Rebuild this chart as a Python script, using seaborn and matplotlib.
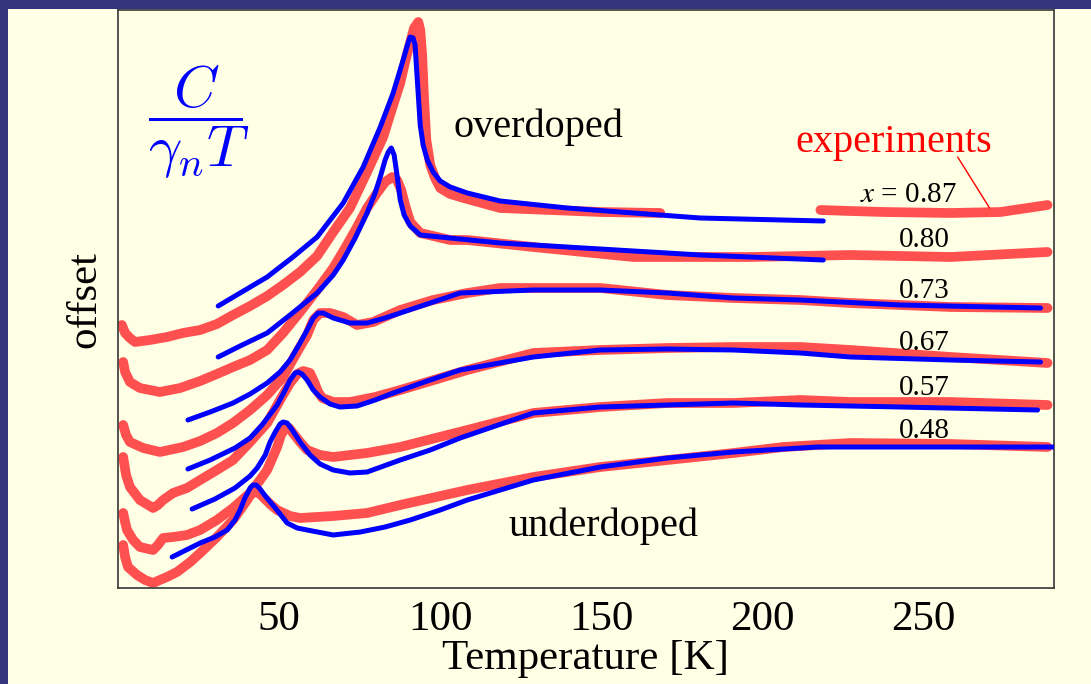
import numpy as np
import pandas as pd
import matplotlib
matplotlib.use('Agg')
import matplotlib.pyplot as plt
from matplotlib.patches import Rectangle
import seaborn as sns

# Colores
NAVY = '#34347c'
CREAM = '#ffffe6'
RED = '#ff5050'
BLUE = '#0000ff'

# Datos experimentales (C / gamma_n T, desplazados) - temperatura en K
exp_087_T = [1.2, 2.2, 3.7, 5.3, 9.9, 15.2, 20.2, 25.5, 30.7, 35.7, 41.0, 46.3, 51.2, 56.5, 61.8,
             66.8, 72.0, 77.3, 82.3, 85.4, 87.6, 89.1, 90.7, 91.9, 93.2, 93.8, 94.4, 95.0, 95.7,
             96.9, 98.4, 100.0, 103.1, 108.4, 118.6, 134.2, 149.7, 168.3]
exp_087_y = [2.63, 2.55, 2.50, 2.46, 2.48, 2.51, 2.55, 2.58, 2.64, 2.73, 2.82, 2.92, 3.03, 3.16, 3.32,
             3.56, 3.80, 4.16, 4.51, 4.83, 5.05, 5.26, 5.46, 5.60, 5.66, 5.58, 5.33, 4.88, 4.48,
             4.23, 4.10, 4.00, 3.94, 3.89, 3.80, 3.78, 3.76, 3.75]
exp_087b_T = [218.0, 227.3, 237.6, 258.4, 273.9, 288.5]
exp_087b_y = [3.78, 3.77, 3.76, 3.75, 3.76, 3.83]

exp_080_T = [1.6, 2.2, 3.7, 6.8, 13.0, 19.3, 25.5, 30.7, 35.7, 41.0, 46.3, 51.2, 56.5, 61.8, 66.8,
             70.5, 74.2, 77.3, 80.4, 82.9, 85.1, 86.6, 87.9, 89.1, 90.7, 93.8, 103.1, 108.4, 128.9,
             159.9, 180.7, 196.3, 227.3, 258.4, 288.5]
exp_080_y = [2.26, 2.16, 2.06, 2.00, 1.96, 2.00, 2.07, 2.14, 2.21, 2.28, 2.38, 2.55, 2.76, 2.98, 3.20,
             3.40, 3.61, 3.80, 3.95, 4.06, 4.11, 4.08, 3.98, 3.83, 3.66, 3.55, 3.48, 3.48, 3.41,
             3.31, 3.31, 3.31, 3.33, 3.31, 3.36]

exp_073_T = [1.6, 2.5, 3.7, 7.8, 13.0, 20.2, 25.5, 30.7, 35.7, 41.0, 46.3, 51.2, 55.6, 58.7, 60.6,
             62.7, 65.8, 69.9, 74.2, 79.2, 87.6, 97.8, 108.4, 118.6, 128.9, 149.7, 170.5, 191.0,
             211.8, 227.3, 258.4, 288.5]
exp_073_y = [1.63, 1.53, 1.46, 1.40, 1.36, 1.41, 1.47, 1.55, 1.65, 1.78, 1.93, 2.11, 2.36, 2.53, 2.68,
             2.75, 2.75, 2.71, 2.63, 2.66, 2.78, 2.88, 2.95, 3.00, 3.00, 3.00, 2.93, 2.90,
             2.88, 2.85, 2.81, 2.80]

exp_067_T = [1.6, 2.5, 3.7, 6.8, 10.9, 12.4, 14.0, 17.1, 21.4, 25.5, 30.7, 35.7, 41.0, 46.3, 50.3,
             53.4, 55.6, 57.5, 59.6, 60.9, 62.1, 63.4, 66.8, 72.0, 79.8, 87.6, 108.4, 128.9, 149.7,
             170.5, 191.0, 211.8, 227.3, 258.4, 288.5]
exp_067_y = [1.31, 1.13, 1.01, 0.88, 0.80, 0.83, 0.88, 0.95, 1.00, 1.08, 1.18, 1.28, 1.46, 1.65, 1.88,
             2.05, 2.14, 2.17, 2.15, 2.06, 1.96, 1.90, 1.86, 1.86, 1.91, 1.98, 2.18, 2.35, 2.38,
             2.40, 2.41, 2.41, 2.38, 2.31, 2.25]

exp_057_T = [1.6, 2.2, 2.8, 4.7, 6.8, 10.9, 12.4, 14.0, 17.1, 21.4, 25.5, 30.7, 35.7, 41.0, 44.1,
             46.3, 49.4, 50.6, 51.9, 53.1, 54.3, 56.5, 58.7, 62.7, 66.8, 77.3, 87.6, 108.4, 128.9,
             149.7, 170.5, 191.0, 211.8, 227.3, 258.4, 288.5]
exp_057_y = [0.75, 0.66, 0.58, 0.48, 0.41, 0.38, 0.43, 0.50, 0.51, 0.53, 0.58, 0.68, 0.80, 0.95, 1.08,
             1.18, 1.41, 1.53, 1.60, 1.60, 1.55, 1.46, 1.38, 1.33, 1.31, 1.35, 1.41, 1.58, 1.75,
             1.81, 1.85, 1.85, 1.88, 1.86, 1.86, 1.83]

exp_048_T = [1.6, 2.2, 3.1, 5.9, 8.4, 10.9, 13.0, 15.2, 18.3, 22.4, 25.5, 30.7, 35.7, 37.9, 40.1,
             41.3, 42.5, 43.8, 45.0, 47.2, 49.4, 53.4, 56.5, 66.8, 77.3, 87.6, 108.4, 128.9, 149.7,
             170.5, 191.0, 206.5, 227.3, 258.4, 288.5]
exp_048_y = [0.43, 0.31, 0.21, 0.13, 0.08, 0.05, 0.08, 0.11, 0.16, 0.26, 0.35, 0.51, 0.68, 0.78, 0.88,
             0.94, 0.96, 0.95, 0.91, 0.84, 0.78, 0.72, 0.70, 0.72, 0.75, 0.83, 0.98, 1.11, 1.21,
             1.28, 1.35, 1.41, 1.45, 1.44, 1.41]

# Curvas teóricas
th_087_T = [31.1, 37.9, 46.3, 54.3, 61.8, 69.9, 76.1, 81.4, 85.4, 88.5, 90.1, 90.7, 91.6, 92.2, 92.9,
            93.8, 94.7, 96.0, 97.8, 100.0, 103.1, 108.4, 118.6, 139.4, 159.9, 180.7, 218.9]
th_087_y = [2.82, 2.95, 3.11, 3.31, 3.51, 3.85, 4.21, 4.61, 4.95, 5.28, 5.46, 5.51, 5.50, 5.43, 5.08,
            4.63, 4.43, 4.28, 4.16, 4.07, 4.01, 3.95, 3.87, 3.80, 3.75, 3.70, 3.67]

th_080_T = [31.1, 37.9, 46.3, 53.4, 61.8, 66.8, 69.9, 73.6, 77.3, 79.8, 81.4, 82.9, 83.9, 84.8, 85.7,
            86.6, 87.6, 88.8, 90.7, 93.8, 103.1, 118.6, 180.7, 218.9]
th_080_y = [2.31, 2.42, 2.55, 2.73, 2.95, 3.13, 3.28, 3.50, 3.75, 3.95, 4.11, 4.28, 4.36, 4.40, 4.33,
            4.13, 3.88, 3.73, 3.62, 3.53, 3.50, 3.45, 3.33, 3.28]

th_073_T = [21.7, 28.6, 35.7, 41.0, 46.3, 50.3, 53.4, 56.5, 58.7, 60.6, 62.1, 63.7, 66.8, 72.0, 77.3,
            82.9, 87.6, 96.9, 106.2, 128.9, 149.7, 170.5, 191.0, 211.8, 242.9, 286.3]
th_073_y = [1.68, 1.76, 1.85, 1.94, 2.05, 2.16, 2.28, 2.45, 2.58, 2.70, 2.75, 2.75, 2.70, 2.65, 2.65,
            2.70, 2.75, 2.85, 2.95, 2.98, 2.98, 2.95, 2.90, 2.88, 2.83, 2.80]

th_067_T = [21.7, 28.6, 36.3, 41.0, 44.7, 49.4, 51.9, 53.4, 55.0, 55.9, 57.1, 58.7, 60.6, 62.7, 65.8,
            68.9, 74.2, 79.8, 85.4, 96.9, 106.2, 128.9, 149.7, 170.5, 191.0, 211.8, 227.3, 258.4, 286.3]
th_067_y = [1.19, 1.28, 1.40, 1.50, 1.63, 1.83, 1.98, 2.08, 2.15, 2.16, 2.14, 2.08, 1.98, 1.91, 1.84,
            1.81, 1.82, 1.88, 1.95, 2.08, 2.18, 2.31, 2.38, 2.39, 2.38, 2.35, 2.31, 2.28, 2.26]

th_057_T = [23.0, 30.1, 36.3, 41.0, 43.2, 45.7, 47.2, 48.8, 50.3, 51.2, 52.5, 54.3, 56.5, 59.6, 62.7,
            66.8, 72.0, 77.3, 87.6, 96.9, 106.2, 128.9, 149.7, 170.5, 191.0, 211.8, 242.9, 285.4]
th_057_y = [0.79, 0.89, 1.00, 1.12, 1.20, 1.33, 1.46, 1.56, 1.64, 1.66, 1.65, 1.57, 1.46, 1.33, 1.24,
            1.18, 1.15, 1.16, 1.28, 1.38, 1.50, 1.75, 1.81, 1.83, 1.85, 1.83, 1.81, 1.78]

th_048_T = [16.8, 25.5, 30.1, 33.9, 36.3, 37.9, 39.4, 41.0, 41.9, 42.9, 44.1, 45.7, 48.8, 52.5, 55.6,
            58.7, 66.8, 75.2, 82.9, 90.7, 100.0, 108.4, 128.9, 149.7, 170.5, 191.0, 217.1, 290.4]
th_048_y = [0.31, 0.45, 0.51, 0.58, 0.68, 0.78, 0.90, 1.00, 1.03, 1.03, 0.99, 0.92, 0.80, 0.65, 0.60,
            0.58, 0.53, 0.56, 0.61, 0.68, 0.78, 0.88, 1.08, 1.21, 1.30, 1.36, 1.41, 1.41]

doping_labels = ['0.80', '0.73', '0.67', '0.57', '0.48']
xticks = [50, 100, 150, 200, 250]


def to_df(segs):
    frames = []
    for i, (T, y) in enumerate(segs):
        frames.append(pd.DataFrame({'T': T, 'y': y, 'seg': i}))
    return pd.concat(frames, ignore_index=True)


df_exp = to_df([(exp_087_T, exp_087_y), (exp_087b_T, exp_087b_y), (exp_080_T, exp_080_y),
                (exp_073_T, exp_073_y), (exp_067_T, exp_067_y), (exp_057_T, exp_057_y),
                (exp_048_T, exp_048_y)])
df_th = to_df([(th_087_T, th_087_y), (th_080_T, th_080_y), (th_073_T, th_073_y),
               (th_067_T, th_067_y), (th_057_T, th_057_y), (th_048_T, th_048_y)])

sns.set_theme(style='white', rc={'text.color': 'black', 'axes.labelcolor': 'black',
                                 'xtick.color': 'black'})
plt.rcParams['font.family'] = ['Liberation Serif', 'DejaVu Serif']
plt.rcParams['mathtext.fontset'] = 'stix'

fig = plt.figure(figsize=(10.91, 6.84), dpi=100)
fig.patch.set_facecolor(NAVY)
fig.add_artist(Rectangle((8 / 1091, 0), 1, 675 / 684, transform=fig.transFigure,
                         facecolor=CREAM, edgecolor='none', zorder=-5))
ax = fig.add_axes([118 / 1091, 96 / 684, 936 / 1091, 578 / 684])
ax.set_facecolor(CREAM)

sns.lineplot(data=df_exp, x='T', y='y', units='seg', estimator=None, sort=False,
             color=RED, lw=7, ax=ax, zorder=2, solid_capstyle='round', solid_joinstyle='round')
sns.lineplot(data=df_th, x='T', y='y', units='seg', estimator=None, sort=False,
             color=BLUE, lw=3.6, ax=ax, zorder=3, solid_capstyle='round', solid_joinstyle='round')

ax.set_xlim(0, 290.5)
ax.set_ylim(0, 5.78)
ax.set_xticks(xticks)
ax.set_yticks([])
ax.tick_params(axis='x', direction='in', length=5, width=1, color='#444444',
               labelcolor='black', labelsize=31, pad=9)
for s in ax.spines.values():
    s.set_color('#444444')
    s.set_linewidth(1.3)

ax.set_xlabel('Temperature [K]', fontsize=31, labelpad=0, color='black')
ax.set_ylabel('offset', fontsize=31, labelpad=10, color='black')

# Textos
ax.text(25.2, 4.66, r'$\dfrac{C}{\gamma_n T}$', color=BLUE, fontsize=42,
        ha='center', va='center', math_fontfamily='cm')
ax.text(104.0, 4.51, 'overdoped', fontsize=29, color='black', ha='left', va='baseline')
ax.text(121.1, 0.52, 'underdoped', fontsize=29, color='black', ha='left', va='baseline')
ax.text(210.2, 4.36, 'experiments', fontsize=29, color='red', ha='left', va='baseline')
ax.plot([260.6, 270.5], [4.31, 3.80], color='red', lw=1)
ax.text(230.4, 3.86, r'$x$ = 0.87', fontsize=21, color='black', ha='left', va='baseline')
for lab, yb in zip(doping_labels, [3.41, 2.90, 2.38, 1.93, 1.50]):
    ax.text(242.5, yb, lab, fontsize=21, color='black', ha='left', va='baseline')

fig.savefig('out.png', dpi=100, facecolor=fig.get_facecolor())
